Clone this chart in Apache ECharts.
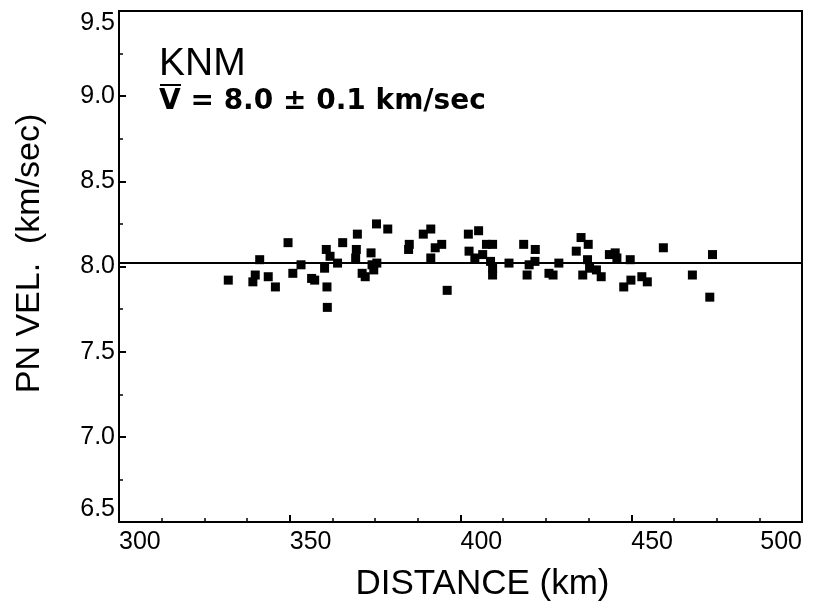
<!DOCTYPE html>
<html>
<head>
<meta charset="utf-8">
<script src="https://cdn.jsdelivr.net/npm/echarts@6/dist/echarts.min.js"></script>
<style>
html,body{margin:0;padding:0;background:#fff;}
#chart{width:816px;height:612px;}
</style>
</head>
<body>
<div id="chart"></div>
<script>
// Pn velocity observations (distance in km, velocity in km/sec)
var distance = [
  332.0, 339.9, 339.2, 341.2, 343.7, 345.8, 349.5, 350.9, 353.3, 356.4,
  357.3, 360.2, 360.7, 361.8, 360.9, 361.0, 364.0, 365.5, 369.8, 369.5,
  369.3, 371.2, 372.1, 373.8, 374.1, 375.5, 374.6, 375.4, 378.7, 385.0,
  384.8, 389.1, 391.3, 391.3, 392.6, 394.5, 396.1, 402.3, 405.3, 402.5,
  404.2, 406.5, 407.6, 409.4, 408.8, 409.4, 409.4, 414.2, 418.5, 421.9,
  419.5, 420.1, 421.8, 425.9, 427.1, 428.8, 433.9, 435.3, 437.4, 437.2,
  435.8, 437.8, 439.8, 441.2, 443.6, 445.3, 445.8, 449.7, 447.8, 449.9,
  453.1, 454.7, 459.4, 467.9, 473.8, 473.0
];
var velocity = [
  7.92, 7.95, 7.91, 8.04, 7.94, 7.88, 8.14, 7.96, 8.01, 7.93,
  7.92, 7.99, 8.10, 8.06, 7.88, 7.76, 8.02, 8.14, 8.19, 8.10,
  8.05, 7.96, 7.94, 8.08, 8.01, 8.02, 7.98, 8.25, 8.22, 8.13,
  8.10, 8.19, 8.22, 8.05, 8.11, 8.13, 7.86, 8.19, 8.21, 8.09,
  8.05, 8.07, 8.13, 8.13, 8.03, 7.99, 7.95, 8.02, 8.13, 8.10,
  7.95, 8.01, 8.03, 7.96, 7.95, 8.02, 8.09, 8.17, 8.13, 8.04,
  7.95, 7.99, 7.98, 7.94, 8.07, 8.08, 8.05, 8.04, 7.88, 7.92,
  7.94, 7.91, 8.11, 7.95, 8.07, 7.82
];
var meanVelocity = 8.02;
var meanLineX = [300, 500];
var xTicks = [300, 350, 400, 450, 500];
var yTicks = [6.5, 7.0, 7.5, 8.0, 8.5, 9.0, 9.5];
var stationName = 'KNM';
var meanText = 'V = 8.0 \u00b1 0.1 km/sec';
var xName = 'DISTANCE (km)';
var yName = 'PN VEL.  (km/sec)';

var points = distance.map(function (d, i) { return [d, velocity[i]]; });
var meanLine = meanLineX.map(function (d) { return [d, meanVelocity]; });

var FONT = '"Liberation Sans", Arial, Helvetica, sans-serif';
var chart = echarts.init(document.getElementById('chart'), null, {renderer: 'canvas'});
chart.setOption({
  backgroundColor: '#fff',
  animation: false,
  grid: {
    left: 119, right: 14, top: 11, bottom: 90,
    show: true, borderColor: '#000', borderWidth: 2, backgroundColor: 'transparent'
  },
  xAxis: {
    type: 'value',
    min: xTicks[0], max: xTicks[xTicks.length - 1], interval: 50,
    name: xName, nameLocation: 'middle', nameGap: 45,
    nameTextStyle: {fontFamily: FONT, fontSize: 35, color: '#000', padding: [0, 0, 0, 44]},
    axisLine: {lineStyle: {color: '#000', width: 2}},
    axisTick: {inside: true, length: 7, lineStyle: {color: '#000', width: 2}},
    minorTick: {show: true, splitNumber: 4, length: 4, lineStyle: {color: '#000', width: 1.5}},
    splitLine: {show: false},
    axisLabel: {
      fontFamily: FONT, fontSize: 25, color: '#000', margin: 8,
      align: 'left', alignMaxLabel: 'right'
    }
  },
  yAxis: {
    type: 'value',
    min: yTicks[0], max: yTicks[yTicks.length - 1], interval: 0.5,
    name: yName, nameLocation: 'middle', nameGap: 72, nameRotate: 90,
    nameTextStyle: {fontFamily: FONT, fontSize: 34, color: '#000', padding: [0, 0, 0, 26]},
    axisLine: {lineStyle: {color: '#000', width: 2}},
    axisTick: {inside: true, length: 7, lineStyle: {color: '#000', width: 2}},
    minorTick: {show: true, splitNumber: 2, length: 4, lineStyle: {color: '#000', width: 1.5}},
    splitLine: {show: false},
    axisLabel: {
      fontFamily: FONT, fontSize: 25, color: '#000', margin: 4,
      formatter: function (v) { return v.toFixed(1); },
      verticalAlignMaxLabel: 'top', verticalAlignMinLabel: 'bottom'
    }
  },
  series: [
    {
      type: 'line', data: meanLine, symbol: 'none', silent: true,
      lineStyle: {color: '#000', width: 2}, z: 2
    },
    {
      type: 'scatter', data: points, symbol: 'rect', symbolSize: 9,
      itemStyle: {color: '#000', opacity: 1}, z: 3
    }
  ],
  graphic: [
    {type: 'text', left: 159, top: 45,
     style: {text: stationName, font: '39px ' + FONT, fill: '#000'}},
    {type: 'text', left: 159, top: 88,
     style: {text: meanText, font: 'bold 28px "DejaVu Sans", sans-serif', fill: '#000'}},
    {type: 'line', shape: {x1: 160, y1: 85, x2: 181, y2: 85},
     style: {stroke: '#000', lineWidth: 2}}
  ]
});
</script>
</body>
</html>
